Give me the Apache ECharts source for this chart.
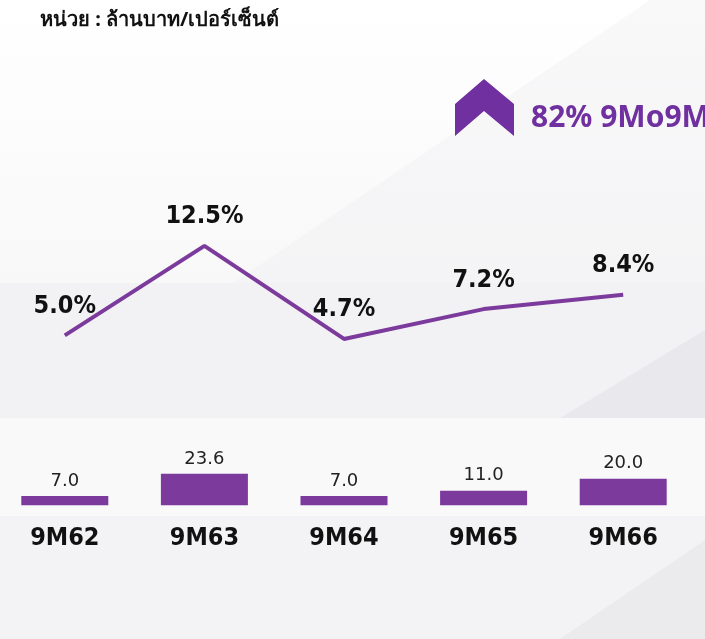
<!DOCTYPE html>
<html>
<head>
<meta charset="utf-8">
<script src="https://cdn.jsdelivr.net/npm/echarts@6/dist/echarts.min.js"></script>
<style>
  html, body { margin: 0; padding: 0; overflow: hidden; }
  /* shifted 5px left so the first category sits where the source puts it */
  #chart { width: 710px; height: 639px; margin-left: -5px; }
</style>
</head>
<body>
<div id="chart"></div>
<script>
// periods
const categories = ['9M62', '9M63', '9M64', '9M65', '9M66']
// profit margin, %
const marginPct = [5.0, 12.5, 4.7, 7.2, 8.4]
// net profit, million baht
const profit = [7.0, 23.6, 7.0, 11.0, 20.0]
const unitText = 'หน่วย : ล้านบาท/เปอร์เซ็นต์'
const growthText = '82% 9Mo9M'

const purple = '#7b3a9c'
const cond = '"DejaVu Sans Condensed", "Roboto Condensed", sans-serif'
const dx = 5 // container offset

const chart = echarts.init(document.getElementById('chart'))

chart.setOption({
  backgroundColor: '#f6f6f7',
  graphic: [
    // background bands and light diagonals
    { type: 'rect', silent: true, z: -2, shape: { x: 0, y: 0, width: 710, height: 283 }, style: { fill: new echarts.graphic.LinearGradient(0, 0, 0, 1, [{ offset: 0, color: '#ffffff' }, { offset: 1, color: '#f8f8f9' }]) } },
    { type: 'rect', silent: true, z: -2, shape: { x: 0, y: 283, width: 710, height: 135 }, style: { fill: '#f2f2f4' } },
    { type: 'rect', silent: true, z: -2, shape: { x: 0, y: 418, width: 710, height: 98 }, style: { fill: '#f9f9fa' } },
    { type: 'rect', silent: true, z: -2, shape: { x: 0, y: 516, width: 710, height: 123 }, style: { fill: '#f3f3f5' } },
    { type: 'polygon', silent: true, z: -1, shape: { points: [[233 + dx, 283], [650 + dx, 0], [710, 0], [710, 283]] }, style: { fill: 'rgba(234,234,238,0.3)' } },
    { type: 'polygon', silent: true, z: -1, shape: { points: [[560 + dx, 418], [710, 330], [710, 418]] }, style: { fill: 'rgba(226,227,231,0.6)' } },
    { type: 'polygon', silent: true, z: -1, shape: { points: [[560 + dx, 639], [710, 540], [710, 639]] }, style: { fill: 'rgba(228,228,232,0.5)' } },
    {
      type: 'text', left: 40 + dx, top: 10,
      style: { text: unitText, font: 'bold 20px "Noto Sans", sans-serif', fill: '#111' }
    },
    // up chevron
    {
      type: 'polygon',
      shape: { points: [[484 + dx, 79], [514 + dx, 104], [514 + dx, 136], [484 + dx, 111], [455 + dx, 136], [455 + dx, 104]] },
      style: { fill: '#7030a0' }
    },
    {
      type: 'text', left: 531 + dx, top: 103,
      style: { text: growthText, font: 'bold 30px "Noto Sans", sans-serif', fill: '#7030a0' }
    }
  ],
  grid: [
    { left: 0, right: 12, top: 228, height: 167 },
    { left: 0, right: 12, top: 452, height: 56 }
  ],
  xAxis: [
    { gridIndex: 0, type: 'category', data: categories, show: false },
    {
      gridIndex: 1, type: 'category', data: categories,
      axisLine: { show: false }, axisTick: { show: false },
      axisLabel: { margin: 18, color: '#111', fontSize: 25, fontWeight: 'bold', fontFamily: cond }
    }
  ],
  yAxis: [
    { gridIndex: 0, type: 'value', min: 0, max: 14, show: false },
    { gridIndex: 1, type: 'value', min: -2, max: 40, show: false }
  ],
  series: [
    {
      type: 'line',
      xAxisIndex: 0,
      yAxisIndex: 0,
      data: marginPct,
      symbol: 'circle',
      symbolSize: 1,
      itemStyle: { opacity: 0 },
      lineStyle: { color: purple, width: 4 },
      label: {
        show: true,
        position: 'top',
        distance: 16,
        color: '#111',
        opacity: 1,
        fontSize: 25,
        fontWeight: 'bold',
        fontFamily: cond,
        formatter: p => p.value.toFixed(1) + '%'
      }
    },
    {
      type: 'bar',
      xAxisIndex: 1,
      yAxisIndex: 1,
      data: profit,
      barWidth: 87,
      itemStyle: { color: purple },
      label: {
        show: true,
        position: 'top',
        distance: 6,
        color: '#222',
        fontSize: 18,
        fontFamily: '"DejaVu Sans", sans-serif',
        formatter: p => p.value.toFixed(1)
      }
    }
  ]
})
</script>
</body>
</html>
